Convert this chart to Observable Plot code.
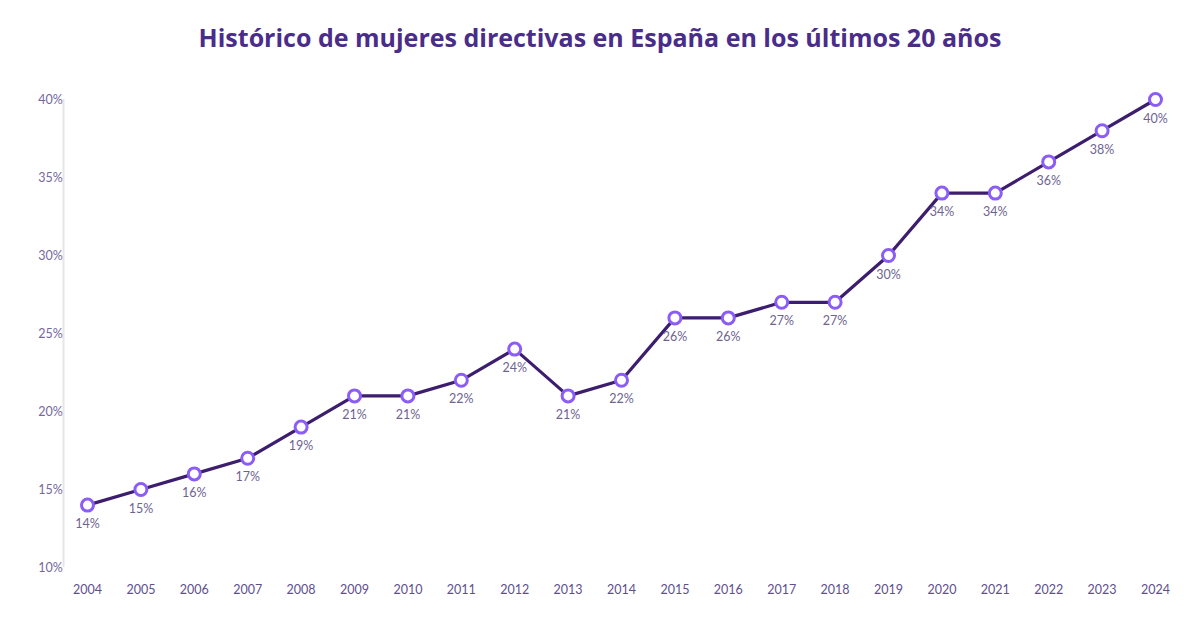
<!DOCTYPE html>
<html>
<head>
<meta charset="utf-8">
<script src="https://cdn.jsdelivr.net/npm/d3@7"></script>
<script src="https://cdn.jsdelivr.net/npm/@observablehq/plot@0.6"></script>
<style>
  html, body { margin: 0; padding: 0; background: #fff; }
  #title { height: 70px; box-sizing: border-box; padding-top: 21px; text-align: center;
    font-family: "Open Sans", Lato, sans-serif; font-weight: 700; font-size: 25px; color: #4a2c8a; line-height: 32px; }
</style>
</head>
<body>
<div id="title">Histórico de mujeres directivas en España en los últimos 20 años</div>
<div id="chart"></div>
<script>
const years = [2004,2005,2006,2007,2008,2009,2010,2011,2012,2013,2014,2015,2016,2017,2018,2019,2020,2021,2022,2023,2024];
const values = [14,15,16,17,19,21,21,22,24,21,22,26,26,27,27,30,34,34,36,38,40];
const yTicks = [10,15,20,25,30,35,40];

const data = years.map((y, i) => ({year: y, value: values[i]}));
const font = "Lato, 'Open Sans', sans-serif";

const chart = Plot.plot({
  width: 1200,
  height: 548,
  marginTop: 29,
  marginBottom: 51,
  marginLeft: 63,
  marginRight: 22,
  style: {fontFamily: font, fontSize: "12px", color: "#5e4f8c", background: "#fff"},
  x: {domain: [2004, 2024], range: [87, 1155], axis: null},
  y: {domain: [10, 40], axis: null},
  marks: [
    Plot.ruleY(yTicks.filter(t => t > 10), {x1: 63, x2: 1178, y: d => d, stroke: "#ebebeb", strokeWidth: 1.5}),
    Plot.ruleY([10], {x1: 63, x2: 1178, stroke: "#dcdcdc", strokeWidth: 2}),
    Plot.ruleX([0], {x: () => 2004, dx: -24, y1: 10, y2: 40, stroke: "#e6e6e6", strokeWidth: 2}),
    Plot.text(yTicks, {x: 2004, y: d => d, dx: -37, text: d => d + "%", textAnchor: "middle", fill: "#74689e", fontSize: 12.5}),
    Plot.text(years, {x: d => d, y: 10, dy: 22, text: d => String(d), fill: "#5e4f8c", fontSize: 12.5}),
    Plot.line(data, {x: "year", y: "value", stroke: "#3c1d6e", strokeWidth: 3.2}),
    Plot.dot(data, {x: "year", y: "value", r: 6, fill: "#fff", stroke: "#8b5cf6", strokeWidth: 3}),
    Plot.text(data, {x: "year", y: "value", dy: 19, text: d => d.value + "%", fill: "#6e6390", fontSize: 12.5})
  ]
});
document.getElementById("chart").appendChild(chart);
</script>
</body>
</html>
